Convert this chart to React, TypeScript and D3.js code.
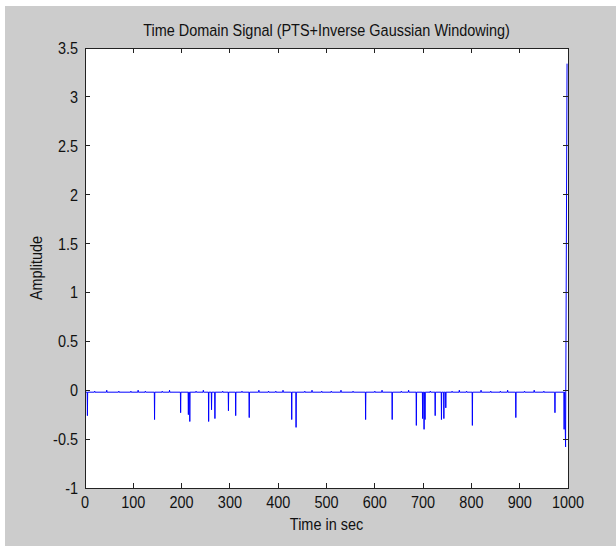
import React from 'react';
import * as d3 from 'd3';

// chart text
const title = 'Time Domain Signal (PTS+Inverse Gaussian Windowing)';
const xLabel = 'Time in sec';
const yLabel = 'Amplitude';

// ticks
const xTicks = [0, 100, 200, 300, 400, 500, 600, 700, 800, 900, 1000];
const yTicks = [-1, -0.5, 0, 0.5, 1, 1.5, 2, 2.5, 3, 3.5];

// signal: flat baseline with downward spikes
const baseline = -0.02;
const spikeTimes = [5, 144, 198, 214, 217, 256, 262, 269, 297, 312, 340, 428, 437, 581, 636, 686, 699, 702, 704, 725, 738, 743, 747, 802, 892, 973, 992];
const spikeValues = [-0.26, -0.3, -0.23, -0.25, -0.32, -0.32, -0.2, -0.29, -0.21, -0.26, -0.28, -0.3, -0.38, -0.3, -0.3, -0.36, -0.29, -0.4, -0.3, -0.26, -0.3, -0.29, -0.18, -0.36, -0.28, -0.23, -0.4];
// small ripple on the baseline
const rippleTimes = [20, 45, 70, 95, 110, 125, 160, 175, 230, 245, 285, 325, 360, 380, 395, 410, 455, 470, 490, 510, 530, 555, 600, 615, 655, 670, 715, 760, 775, 790, 820, 840, 860, 875, 910, 930, 950];
const rippleValues = [-0.01, 0, -0.01, -0.01, 0, -0.01, -0.01, 0, -0.01, 0, -0.01, -0.01, 0, -0.01, -0.01, 0, -0.01, 0, -0.01, -0.01, 0, -0.01, -0.01, 0, -0.01, 0, -0.01, -0.01, 0, -0.01, 0, -0.01, -0.01, 0, -0.01, 0, -0.01];
// the tail end of the record
const endTimes = [994, 995, 998];
const endValues = [-0.3, -0.58, 3.34];

const W = 616;
const H = 546;
const margin = { left: 85, right: 48, top: 48, bottom: 58 };
const font = '"Liberation Sans", Arial, sans-serif';
const squeeze = 0.85; // the original lettering is condensed

// text squeezed horizontally around its anchor point
const Label = ({ x, y, anchor = 'middle', rotate = 0, children }: any) => (
  <text transform={`translate(${x},${y}) rotate(${rotate}) scale(${squeeze},1)`} textAnchor={anchor}>
    {children}
  </text>
);

export default function App() {
  const innerW = W - margin.left - margin.right;
  const innerH = H - margin.top - margin.bottom;

  const x = d3.scaleLinear().domain([0, 1000]).range([margin.left, margin.left + innerW]);
  const y = d3.scaleLinear().domain([-1, 3.5]).range([margin.top + innerH, margin.top]);

  // build the trace from the arrays
  const pts: [number, number][] = [[0, baseline]];
  const events: [number, number, number][] = [];
  spikeTimes.forEach((t, i) => events.push([t, spikeValues[i], 0.5]));
  rippleTimes.forEach((t, i) => events.push([t, rippleValues[i], 0.6]));
  events.sort((a, b) => a[0] - b[0]);
  events.forEach(([t, v, w]) => {
    pts.push([t - w, baseline]);
    pts.push([t, v]);
    pts.push([t + w, baseline]);
  });
  pts.push([endTimes[0] - 0.5, baseline]);
  endTimes.forEach((t, i) => pts.push([t, endValues[i]]));

  const line = d3
    .line<[number, number]>()
    .x(d => x(d[0]))
    .y(d => y(d[1]));

  const x0 = margin.left;
  const x1 = margin.left + innerW;
  const y0 = margin.top + innerH;
  const y1 = margin.top;
  const tl = 5;

  return (
    <svg width={W} height={H} style={{ position: 'absolute', left: 0, top: 0, background: '#fff' }}>
      <rect x={5} y={6} width={W - 5} height={H - 6} fill="#cccccc" />
      <rect x={x0} y={y1} width={innerW} height={innerH} fill="#fff" />

      <path d={line(pts) || ''} fill="none" stroke="#0000ff" strokeWidth={1} />

      {/* ticks on all four sides, pointing in */}
      <g stroke="#222" strokeWidth={1} shapeRendering="crispEdges">
        {xTicks.map(t => (
          <g key={'xt' + t}>
            <line x1={x(t)} x2={x(t)} y1={y0} y2={y0 - tl} />
            <line x1={x(t)} x2={x(t)} y1={y1} y2={y1 + tl} />
          </g>
        ))}
        {yTicks.map(t => (
          <g key={'yt' + t}>
            <line x1={x0} x2={x0 + tl} y1={y(t)} y2={y(t)} />
            <line x1={x1} x2={x1 - tl} y1={y(t)} y2={y(t)} />
          </g>
        ))}
        <rect x={x0} y={y1} width={innerW} height={innerH} fill="none" />
      </g>

      <g fontFamily={font} fontSize={17} fill="#111">
        {xTicks.map(t => (
          <Label key={'xl' + t} x={x(t)} y={y0 + 20}>
            {t}
          </Label>
        ))}
        {yTicks.map(t => (
          <Label key={'yl' + t} x={x0 - 7} y={y(t) + 6} anchor="end">
            {t}
          </Label>
        ))}
        <Label x={(x0 + x1) / 2} y={y0 + 42}>
          {xLabel}
        </Label>
        <Label x={42} y={(y0 + y1) / 2} rotate={-90}>
          {yLabel}
        </Label>
        <Label x={(x0 + x1) / 2} y={36}>
          {title}
        </Label>
      </g>
    </svg>
  );
}
